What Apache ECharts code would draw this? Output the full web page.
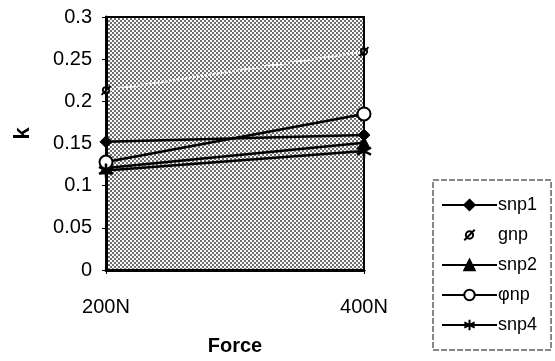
<!DOCTYPE html>
<html>
<head>
<meta charset="utf-8">
<script src="https://cdn.jsdelivr.net/npm/echarts@6/dist/echarts.min.js"></script>
<style>
  html, body { margin: 0; padding: 0; background: #fff; }
  #chart { width: 555px; height: 361px; }
</style>
</head>
<body>
<div id="chart"></div>
<script>
// Stiffness k measured at two loads
const forces = ['200N', '400N'];
const snp1 = [0.152, 0.160];
const gnp = [0.213, 0.259];
const snp2 = [0.121, 0.151];
const phinp = [0.128, 0.185];
const snp4 = [0.118, 0.141];
const seriesNames = ['snp1', 'gnp', 'snp2', 'φnp', 'snp4'];

// halftone fill for the plotting area
const tile = document.createElement('canvas');
tile.width = 4; tile.height = 4;
const tc = tile.getContext('2d');
tc.fillStyle = '#fbfbfb';
tc.fillRect(0, 0, 4, 4);
tc.fillStyle = '#6e6e6e';
tc.fillRect(0, 0, 2, 2);
tc.fillRect(2, 2, 2, 2);

const FONT = 'Liberation Sans';
const asterisk = 'path://M5,0L5,10M0.7,2.5L9.3,7.5M0.7,7.5L9.3,2.5';
const slashedO = 'path://M5,2.2A2.8,2.8,0,1,1,4.99,2.2ZM1,9L9,1';

const chart = echarts.init(document.getElementById('chart'), null, { renderer: 'canvas' });

function blackLine(name, data, symbol, size, extra) {
  return Object.assign({
    name: name,
    type: 'line',
    data: data,
    symbol: symbol,
    symbolSize: size,
    showAllSymbol: true,
    lineStyle: { color: '#000', width: 2.5 },
    itemStyle: { color: '#000', borderColor: '#000', borderWidth: 1 },
    emphasis: { disabled: true },
    animation: false
  }, extra || {});
}

chart.setOption({
  animation: false,
  textStyle: { fontFamily: FONT },
  grid: {
    left: 106, right: 191, top: 17, bottom: 89,
    show: true,
    backgroundColor: { image: tile, repeat: 'repeat' },
    borderColor: '#000',
    borderWidth: 2
  },
  legend: {
    orient: 'vertical',
    left: 433,
    top: 180,
    data: seriesNames,
    itemWidth: 55,
    itemHeight: 13,
    itemGap: 12,
    padding: [16, 14, 16, 8],
    borderColor: '#111',
    borderWidth: 1,
    borderType: [6, 2],
    textStyle: { fontFamily: FONT, fontSize: 18, color: '#000', padding: [0, 0, 0, -4] },
    selectedMode: false
  },
  xAxis: {
    type: 'category',
    data: forces,
    boundaryGap: false,
    name: 'Force',
    nameLocation: 'middle',
    nameGap: 66,
    nameTextStyle: { fontFamily: FONT, fontSize: 20, fontWeight: 'bold', color: '#000' },
    axisLine: { lineStyle: { color: '#000', width: 3 } },
    axisTick: { show: true, alignWithLabel: true, length: 4, lineStyle: { color: '#000' } },
    axisLabel: { fontFamily: FONT, fontSize: 20, color: '#000', margin: 27 },
    splitLine: { show: false }
  },
  yAxis: {
    type: 'value',
    min: 0,
    max: 0.3,
    interval: 0.05,
    name: 'k',
    nameLocation: 'middle',
    nameGap: 72,
    nameRotate: 90,
    nameTextStyle: { fontFamily: FONT, fontSize: 22, fontWeight: 'bold', color: '#000', padding: [0, 0, 0, 20] },
    axisLine: { show: true, lineStyle: { color: '#000', width: 3 } },
    axisTick: { show: true, length: 4, lineStyle: { color: '#000' } },
    axisLabel: { fontFamily: FONT, fontSize: 20, color: '#000', margin: 14 },
    splitLine: { show: false }
  },
  series: [
    blackLine('snp1', snp1, 'diamond', 12),
    {
      name: 'gnp',
      type: 'line',
      data: gnp,
      symbol: slashedO,
      symbolSize: 9,
      showAllSymbol: true,
      lineStyle: { color: '#fff', width: 2.5, type: [2, 2] },
      itemStyle: { color: 'transparent', borderColor: '#000', borderWidth: 1.8 },
      emphasis: { disabled: true },
      animation: false
    },
    blackLine('snp2', snp2, 'triangle', 12),
    blackLine('φnp', phinp, 'emptyCircle', 13, {
      itemStyle: { color: '#000', borderColor: '#000', borderWidth: 1.8 }
    }),
    blackLine('snp4', snp4, asterisk, 14, {
      itemStyle: { color: '#000', borderColor: '#000', borderWidth: 2.5 }
    })
  ]
});
</script>
</body>
</html>
